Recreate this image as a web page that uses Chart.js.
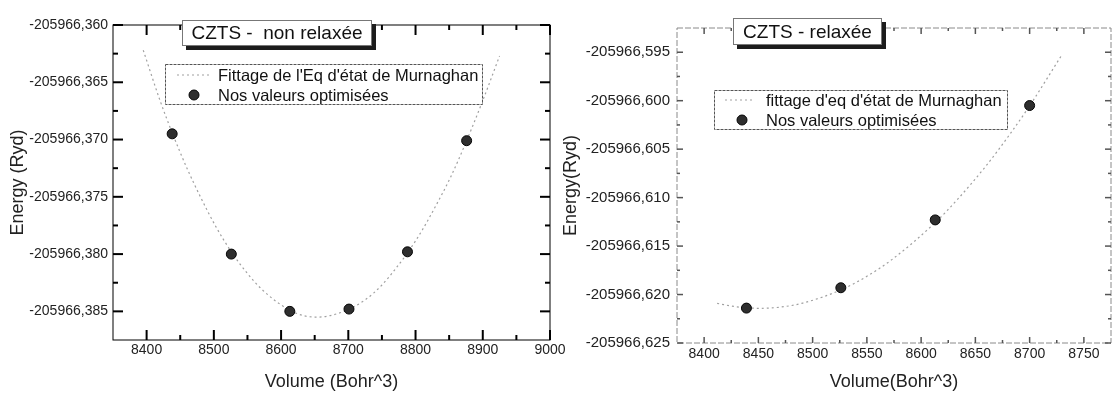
<!DOCTYPE html>
<html>
<head>
<meta charset="utf-8">
<script src="https://cdn.jsdelivr.net/npm/chart.js@4.4.1/dist/chart.umd.min.js"></script>
<style>
  body { margin: 0; background: #fff; width: 1120px; height: 405px; overflow: hidden; position: relative; }
  canvas { position: absolute; top: 0; }
  #left { left: 0; }
  #right { left: 560px; }
</style>
</head>
<body>
<canvas id="left" width="590" height="405"></canvas>
<canvas id="right" width="560" height="405"></canvas>
<script>
// left panel: CZTS non relaxée
const leftVolume = [8438, 8526, 8613, 8701, 8788, 8876];
const leftEnergy = [-205966.3695, -205966.3800, -205966.3850, -205966.3848, -205966.3798, -205966.3701];
const leftFitVolume = [8395, 8420, 8438, 8460, 8480, 8503, 8526, 8550, 8570, 8592, 8613, 8635, 8655, 8678, 8701, 8725, 8750, 8770, 8788, 8810, 8830, 8852, 8876, 8900, 8925];
const leftFitEnergy = [-205966.3622, -205966.3666, -205966.3694, -205966.3725, -205966.3750, -205966.3776, -205966.3798, -205966.3817,
  -205966.3830, -205966.3841, -205966.3849, -205966.3854, -205966.3855, -205966.3853, -205966.3848, -205966.3840, -205966.3827,
  -205966.3813, -205966.3799, -205966.3779, -205966.3758, -205966.3733, -205966.3701, -205966.3666, -205966.3627];
const leftXTicks = [8400, 8500, 8600, 8700, 8800, 8900, 9000];
const leftYTicks = [-205966.385, -205966.380, -205966.375, -205966.370, -205966.365, -205966.360];

// right panel: CZTS relaxée
const rightVolume = [8439, 8526, 8613, 8700];
const rightEnergy = [-205966.6214, -205966.6193, -205966.6123, -205966.6005];
const rightFitVolume = [8412, 8430, 8451, 8470, 8491, 8526, 8550, 8573, 8613, 8633, 8660, 8682, 8700, 8729];
const rightFitEnergy = [-205966.62091, -205966.62127, -205966.62142, -205966.62130, -205966.62088, -205966.61952, -205966.61812,
  -205966.61640, -205966.61257, -205966.61025, -205966.60670, -205966.60343, -205966.60053, -205966.59540];
const rightXTicks = [8400, 8450, 8500, 8550, 8600, 8650, 8700, 8750];
const rightYTicks = [-205966.625, -205966.620, -205966.615, -205966.610, -205966.605, -205966.600, -205966.595];

const FONT = "'Liberation Sans', Arial, sans-serif";
const fmt = v => v.toFixed(3).replace('.', ',');

function minors(major, min, max) {
  const step = major[1] - major[0];
  const eps = Math.abs(step) * 0.05;
  const out = [major[0] - step / 2, major[major.length - 1] + step / 2];
  for (let i = 0; i < major.length - 1; i++) out.push((major[i] + major[i + 1]) / 2);
  return out.filter(v => v > min + eps && v < max - eps);
}

// frame with inward ticks, shadowed title box and legend box, drawn on top of the chart
function makeDecor(s) {
  return {
    id: 'decor',
    afterDraw(chart) {
      const { ctx, chartArea: a, scales: { x, y } } = chart;
      ctx.save();
      const seg = (x0, y0, x1, y1) => { ctx.beginPath(); ctx.moveTo(x0, y0); ctx.lineTo(x1, y1); ctx.stroke(); };

      ctx.strokeStyle = s.frameColor;
      ctx.lineWidth = 1;
      ctx.setLineDash(s.frameDash);
      ctx.strokeRect(a.left, a.top, a.right - a.left, a.bottom - a.top);
      ctx.setLineDash([]);

      ctx.strokeStyle = s.tickColor;
      ctx.lineWidth = s.tickWidth;
      x.ticks.forEach(t => {
        const p = x.getPixelForValue(t.value);
        seg(p, a.bottom, p, a.bottom - s.major);
        seg(p, a.top, p, a.top + s.major);
      });
      minors(x.ticks.map(t => t.value), x.min, x.max).forEach(v => {
        const p = x.getPixelForValue(v);
        seg(p, a.bottom, p, a.bottom - s.minor);
        seg(p, a.top, p, a.top + s.minor);
      });
      y.ticks.forEach(t => {
        const p = y.getPixelForValue(t.value);
        seg(a.left, p, a.left + s.major, p);
        seg(a.right, p, a.right - s.major, p);
      });
      minors(y.ticks.map(t => t.value), y.min, y.max).forEach(v => {
        const p = y.getPixelForValue(v);
        seg(a.left, p, a.left + s.minor, p);
        seg(a.right, p, a.right - s.minor, p);
      });
      ctx.lineWidth = 1;

      const t = s.title;
      ctx.fillStyle = '#1c1c1c';
      ctx.fillRect(t.x + 4, t.y + 4, t.w, t.h);
      ctx.fillStyle = '#fff';
      ctx.fillRect(t.x, t.y, t.w, t.h);
      ctx.strokeStyle = '#777';
      ctx.strokeRect(t.x + 0.5, t.y + 0.5, t.w - 1, t.h - 1);
      ctx.fillStyle = '#111';
      ctx.font = `${t.size}px ${FONT}`;
      ctx.textAlign = 'center';
      ctx.textBaseline = 'middle';
      ctx.fillText(t.text, t.x + t.w / 2, t.y + t.h / 2 + 1);

      const g = s.legend;
      const [fit, pts] = chart.data.datasets;
      ctx.fillStyle = '#fff';
      ctx.fillRect(g.x, g.y, g.w, g.h);
      ctx.strokeStyle = '#555';
      ctx.setLineDash([3, 1]);
      ctx.strokeRect(g.x + 0.5, g.y + 0.5, g.w, g.h);
      ctx.strokeStyle = fit.borderColor;
      ctx.lineWidth = fit.borderWidth;
      ctx.setLineDash(fit.borderDash);
      seg(g.lineX0, g.row1, g.lineX1, g.row1);
      ctx.setLineDash([]);
      ctx.lineWidth = 1;
      ctx.beginPath();
      ctx.arc(g.markX, g.row2, pts.pointRadius, 0, Math.PI * 2);
      ctx.fillStyle = pts.pointBackgroundColor;
      ctx.fill();
      ctx.strokeStyle = pts.pointBorderColor;
      ctx.stroke();
      ctx.fillStyle = '#111';
      ctx.font = `${g.size}px ${FONT}`;
      ctx.textAlign = 'left';
      ctx.fillText(fit.label, g.textX, g.row1 + 1);
      ctx.fillText(pts.label, g.textX, g.row2 + 1);
      ctx.restore();
    }
  };
}

function build(id, o) {
  return new Chart(document.getElementById(id), {
    type: 'scatter',
    data: {
      datasets: [
        {
          label: o.fitLabel,
          data: o.fitX.map((v, i) => ({ x: v, y: o.fitY[i] })),
          showLine: true,
          pointRadius: 0,
          borderColor: '#a0a0a0',
          borderWidth: 1.2,
          borderDash: [2, 3],
          cubicInterpolationMode: 'monotone',
          order: 2
        },
        {
          label: 'Nos valeurs optimisées',
          data: o.x.map((v, i) => ({ x: v, y: o.y[i] })),
          pointRadius: 5,
          pointBackgroundColor: '#2e2e2e',
          pointBorderColor: '#050505',
          pointBorderWidth: 1,
          showLine: false,
          order: 1
        }
      ]
    },
    options: {
      responsive: false,
      animation: false,
      devicePixelRatio: 1,
      layout: { padding: o.pad },
      plugins: { legend: { display: false }, tooltip: { enabled: false } },
      scales: {
        x: {
          type: 'linear',
          min: o.xMin, max: o.xMax,
          afterBuildTicks: s => { s.ticks = o.xTicks.map(v => ({ value: v })); },
          afterFit: s => { s.height = o.xH; },
          grid: { display: false, drawTicks: false },
          border: { display: false },
          ticks: { color: '#222', font: { family: FONT, size: 14 }, padding: o.xPad, maxRotation: 0, autoSkip: false, callback: v => String(v) },
          title: { display: true, text: o.xTitle, color: '#222', font: { family: FONT, size: 18 }, padding: { top: 0, bottom: 12 } }
        },
        y: {
          type: 'linear',
          min: o.yMin, max: o.yMax,
          afterBuildTicks: s => { s.ticks = o.yTicks.map(v => ({ value: v })); },
          afterFit: s => { s.width = o.yW; },
          grid: { display: false, drawTicks: false },
          border: { display: false },
          ticks: { color: '#222', font: { family: FONT, size: o.yFont }, padding: o.yPad, autoSkip: false, callback: v => fmt(v) },
          title: { display: true, text: o.yTitle, color: '#222', font: { family: FONT, size: 18 }, padding: { top: o.yTitlePad, bottom: 0 } }
        }
      }
    },
    plugins: [makeDecor(o.decor)]
  });
}

build('left', {
  x: leftVolume, y: leftEnergy, fitX: leftFitVolume, fitY: leftFitEnergy,
  fitLabel: "Fittage de l'Eq d'état de Murnaghan",
  xTicks: leftXTicks, yTicks: leftYTicks,
  xMin: 8350, xMax: 9000, yMin: -205966.3875, yMax: -205966.360,
  xTitle: 'Volume (Bohr^3)', yTitle: 'Energy (Ryd)',
  pad: { top: 25, right: 40, bottom: 0, left: 0 },
  xH: 65, yW: 113, yFont: 14, xPad: 2, yPad: 5, yTitlePad: 7,
  decor: {
    frameColor: '#000', frameDash: [], tickColor: '#000', major: 10, minor: 5, tickWidth: 2,
    title: { text: 'CZTS -  non relaxée', x: 182, y: 20, w: 190, h: 26, size: 19 },
    legend: { x: 165, y: 64, w: 317, h: 40, row1: 75, row2: 95, lineX0: 177, lineX1: 212, markX: 194, textX: 218, size: 16.5 }
  }
});

build('right', {
  x: rightVolume, y: rightEnergy, fitX: rightFitVolume, fitY: rightFitEnergy,
  fitLabel: "fittage d'eq d'état de Murnaghan",
  xTicks: rightXTicks, yTicks: rightYTicks,
  xMin: 8375, xMax: 8775, yMin: -205966.625, yMax: -205966.5925,
  xTitle: 'Volume(Bohr^3)', yTitle: 'Energy(Ryd)',
  pad: { top: 28, right: 9, bottom: 0, left: 0 },
  xH: 62, yW: 117, yFont: 15, xPad: 3, yPad: 7, yTitlePad: 0,
  decor: {
    frameColor: '#8a8a8a', frameDash: [6, 2], tickColor: '#555', major: 6, minor: 3, tickWidth: 1.5,
    title: { text: 'CZTS - relaxée', x: 173, y: 18, w: 149, h: 27, size: 19 },
    legend: { x: 154, y: 90, w: 293, h: 39, row1: 100, row2: 120, lineX0: 165, lineX1: 192, markX: 182, textX: 206, size: 16.5 }
  }
});
</script>
</body>
</html>
